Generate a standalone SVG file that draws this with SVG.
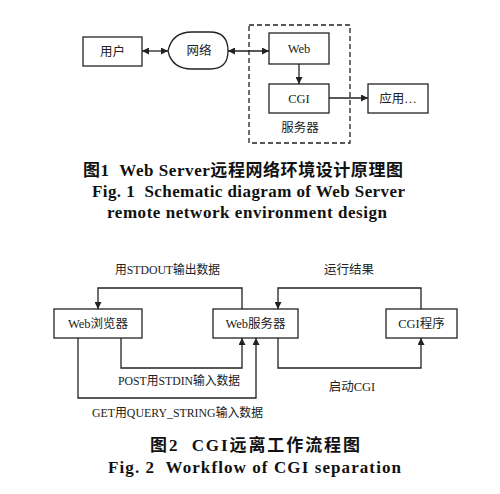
<svg xmlns="http://www.w3.org/2000/svg" width="500" height="494" viewBox="0 0 500 494">
<style>
.box{fill:#fff;stroke:#222;stroke-width:1.3}
.ln{fill:none;stroke:#222;stroke-width:1.3}
.t{font-family:"Liberation Serif","Noto Sans CJK SC",serif;font-size:12.5px;fill:#222;text-anchor:middle;dominant-baseline:central}
.cap{font-family:"Liberation Serif","Noto Sans CJK SC",serif;font-size:17px;font-weight:bold;fill:#111;dominant-baseline:central;white-space:pre}
</style>
<defs>
<marker id="ah" viewBox="0 0 10 10" refX="10" refY="5" markerWidth="7" markerHeight="7" markerUnits="userSpaceOnUse" orient="auto-start-reverse">
<path d="M0,0 L10,5 L0,10 Z" fill="#222"/>
</marker>
</defs>
<rect width="500" height="494" fill="#fff"/>
<g id="connectors">
<line class="ln" x1="142" y1="51" x2="168" y2="51" marker-start="url(#ah)" marker-end="url(#ah)"/>
<line class="ln" x1="228" y1="51" x2="269" y2="51" marker-start="url(#ah)" marker-end="url(#ah)"/>
<line class="ln" x1="299" y1="64" x2="299" y2="84" marker-end="url(#ah)"/>
<line class="ln" x1="329" y1="98" x2="368" y2="98" marker-end="url(#ah)"/>
<polyline class="ln" points="242,309 242,288 98,288 98,309" marker-end="url(#ah)"/>
<polyline class="ln" points="421,309 421,288 278,288 278,309" marker-end="url(#ah)"/>
<polyline class="ln" points="121,338 121,368 242,368 242,338" marker-end="url(#ah)"/>
<polyline class="ln" points="78,338 78,398 256,398 256,338" marker-end="url(#ah)"/>
<polyline class="ln" points="278,338 278,368 421,368 421,338" marker-end="url(#ah)"/>
</g>
<g id="server-group">
<rect x="249" y="25" width="101" height="118" fill="none" stroke="#222" stroke-width="1.3" stroke-dasharray="5,3"/>
<text class="t" x="300" y="128">服务器</text>
</g>
<g id="user">
<rect class="box" x="83" y="37" width="59" height="29"/>
<text class="t" x="112.5" y="51.5">用户</text>
</g>
<g id="network">
<path class="box" d="M168,51 Q172,32 192,32 L210,32 Q228,32 228,51 Q228,69 210,69 L192,69 Q172,69 168,51 Z"/>
<text class="t" x="199" y="51">网络</text>
</g>
<g id="web">
<rect class="box" x="269" y="33" width="60" height="31"/>
<text class="t" x="299" y="48.5">Web</text>
</g>
<g id="cgi">
<rect class="box" x="269" y="84" width="60" height="29"/>
<text class="t" x="299" y="98.5">CGI</text>
</g>
<g id="app">
<rect class="box" x="368" y="84" width="60" height="29"/>
<text class="t" x="398" y="98.5">应用…</text>
</g>
<g id="browser">
<rect class="box" x="54" y="309" width="88" height="29"/>
<text class="t" x="98" y="323.5">Web浏览器</text>
</g>
<g id="webserver">
<rect class="box" x="213" y="309" width="85" height="29"/>
<text class="t" x="255.5" y="323.5">Web服务器</text>
</g>
<g id="cgiprog">
<rect class="box" x="386" y="309" width="71" height="29"/>
<text class="t" x="421.5" y="323.5">CGI程序</text>
</g>
<g id="labels">
<text class="t" x="167.5" y="270" textLength="105" lengthAdjust="spacingAndGlyphs">用STDOUT输出数据</text>
<text class="t" x="349" y="270">运行结果</text>
<text class="t" x="179" y="381" textLength="122" lengthAdjust="spacingAndGlyphs">POST用STDIN输入数据</text>
<text class="t" x="352" y="387">启动CGI</text>
<text class="t" x="177.5" y="413" textLength="171" lengthAdjust="spacingAndGlyphs">GET用QUERY_STRING输入数据</text>
</g>
<g id="captions">
<text class="cap" xml:space="preserve" x="83" y="170" textLength="320" lengthAdjust="spacing">图1  Web Server远程网络环境设计原理图</text>
<text class="cap" xml:space="preserve" x="92" y="191" textLength="313" lengthAdjust="spacing">Fig. 1  Schematic diagram of Web Server</text>
<text class="cap" x="107" y="212" textLength="280" lengthAdjust="spacing">remote network environment design</text>
<text class="cap" xml:space="preserve" x="150" y="445" textLength="210" lengthAdjust="spacing">图2  CGI远离工作流程图</text>
<text class="cap" xml:space="preserve" x="108" y="467" textLength="293" lengthAdjust="spacing">Fig. 2  Workflow of CGI separation</text>
</g>
</svg>
